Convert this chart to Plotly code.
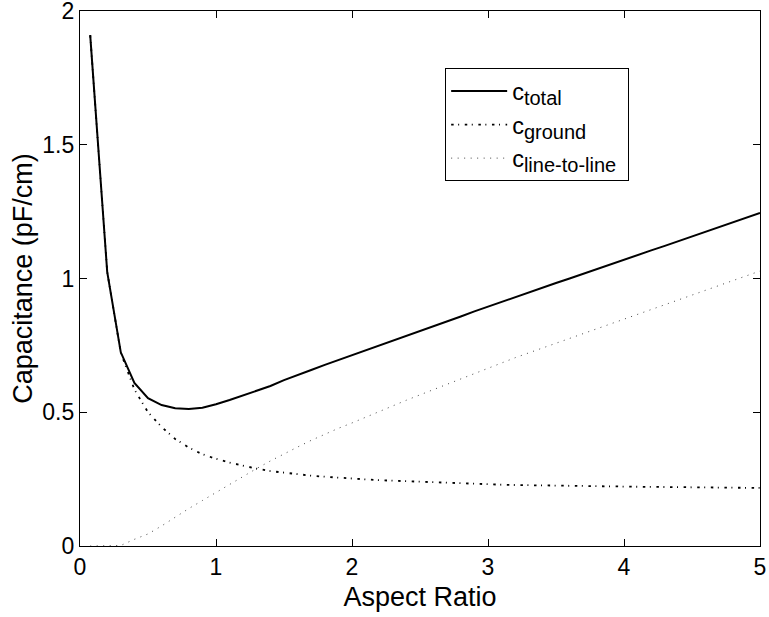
import plotly.graph_objects as go

# Aspect ratio sample points
aspect_ratio = [0.075, 0.2, 0.3, 0.4, 0.5, 0.6, 0.7, 0.8, 0.9, 1.0,
                1.1, 1.2, 1.3, 1.4, 1.5, 1.6, 1.7, 1.8, 1.9, 2.0,
                2.1, 2.2, 2.3, 2.4, 2.5, 2.6, 2.7, 2.8, 2.9, 3.0,
                3.1, 3.2, 3.3, 3.4, 3.5, 3.6, 3.7, 3.8, 3.9, 4.0,
                4.1, 4.2, 4.3, 4.4, 4.5, 4.6, 4.7, 4.8, 4.9, 5.0]

c_total = [1.91, 1.025, 0.724, 0.61, 0.553, 0.527, 0.515, 0.512, 0.517, 0.53,
           0.546, 0.563, 0.58, 0.598, 0.62, 0.638, 0.658, 0.677, 0.695, 0.712,
           0.731, 0.749, 0.768, 0.786, 0.804, 0.822, 0.84, 0.858, 0.877, 0.895,
           0.914, 0.932, 0.949, 0.966, 0.983, 1.0, 1.018, 1.035, 1.052, 1.07,
           1.087, 1.105, 1.122, 1.14, 1.157, 1.175, 1.192, 1.21, 1.227, 1.245]

c_ground = [1.91, 1.025, 0.722, 0.585, 0.50, 0.445, 0.40, 0.368, 0.343, 0.326,
            0.312, 0.300, 0.289, 0.280, 0.274, 0.268, 0.263, 0.259, 0.255, 0.252,
            0.249, 0.246, 0.244, 0.241, 0.239, 0.237, 0.235, 0.233, 0.232, 0.230,
            0.229, 0.228, 0.227, 0.226, 0.225, 0.2245, 0.224, 0.223, 0.2225, 0.222,
            0.2215, 0.221, 0.2205, 0.220, 0.2195, 0.219, 0.2185, 0.218, 0.2175, 0.217]

c_line_to_line = [0.0, 0.0, 0.002, 0.025, 0.045, 0.075, 0.108, 0.14, 0.17, 0.20,
                  0.232, 0.262, 0.29, 0.318, 0.345, 0.37, 0.395, 0.418, 0.44, 0.46,
                  0.482, 0.503, 0.524, 0.545, 0.565, 0.585, 0.605, 0.625, 0.645, 0.665,
                  0.685, 0.704, 0.722, 0.74, 0.758, 0.776, 0.794, 0.812, 0.83, 0.848,
                  0.866, 0.884, 0.902, 0.92, 0.938, 0.956, 0.974, 0.992, 1.01, 1.028]

x_ticks = [0, 1, 2, 3, 4, 5]
y_ticks = [0, 0.5, 1, 1.5, 2]
y_tick_labels = ["0", "0.5", "1", "1.5", "2"]

FONT = "Liberation Sans, Arial, sans-serif"


def legend_name(sub, pad=""):
    return "c<sub><span style='font-size:20px'>" + sub + "</span></sub>" + pad


fig = go.Figure()
fig.add_trace(go.Scatter(
    x=aspect_ratio, y=c_total, mode="lines", name=legend_name("total"),
    line=dict(color="black", width=2)))
fig.add_trace(go.Scatter(
    x=aspect_ratio, y=c_ground, mode="lines", name=legend_name("ground"),
    line=dict(color="black", width=1.8, dash="2.5px,4.5px,1px,5.6px")))
fig.add_trace(go.Scatter(
    x=aspect_ratio, y=c_line_to_line, mode="lines",
    name=legend_name("line-to-line", "\u00a0"),
    line=dict(color="#444444", width=1, dash="1px,5.5px")))

fig.update_layout(
    width=769, height=617,
    margin=dict(l=80, r=9, t=11, b=71),
    paper_bgcolor="white", plot_bgcolor="white",
    font=dict(family=FONT, size=23, color="black"),
    showlegend=True,
    legend=dict(
        x=0.537, y=0.893, xanchor="left", yanchor="top",
        bgcolor="white", bordercolor="black", borderwidth=1,
        font=dict(family=FONT, size=23.5, color="black"),
        tracegroupgap=0, itemwidth=56,
    ),
    xaxis=dict(
        range=[0, 5], tickvals=x_ticks, ticktext=[str(v) for v in x_ticks],
        showgrid=False, zeroline=False, automargin=False,
        showline=True, linecolor="black", linewidth=1.2, mirror="ticks",
        ticks="inside", ticklen=7, tickcolor="black",
        tickfont=dict(size=23), ticklabeloverflow="allow",
        title=dict(text="Aspect Ratio", font=dict(size=27), standoff=8),
    ),
    yaxis=dict(
        range=[0, 2], tickvals=y_ticks, ticktext=y_tick_labels,
        showgrid=False, zeroline=False, automargin=False,
        showline=True, linecolor="black", linewidth=1.2, mirror="ticks",
        ticks="inside", ticklen=7, tickcolor="black",
        tickfont=dict(size=23), ticklabeloverflow="allow",
        title=dict(text="Capacitance (pF/cm)", font=dict(size=27), standoff=1),
    ),
)

fig.write_html("out.html", config={"displayModeBar": False},
               post_script="document.body.style.margin='0';")
